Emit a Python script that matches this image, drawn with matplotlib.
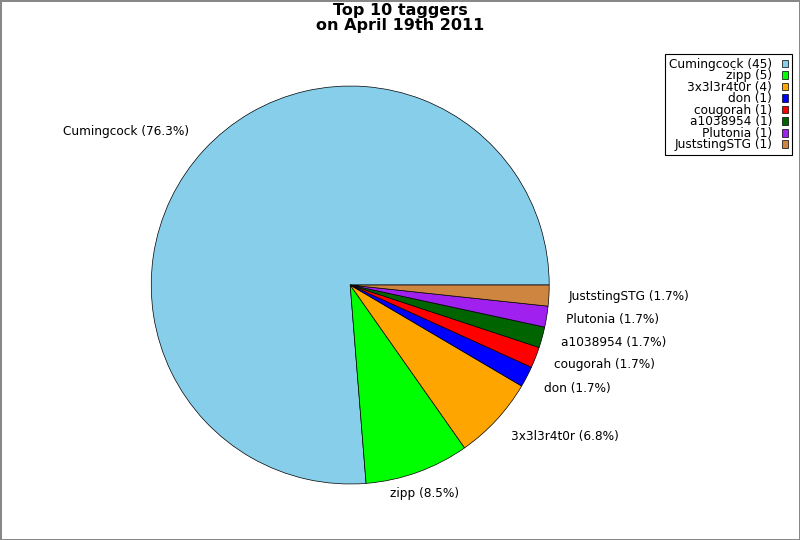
import matplotlib
matplotlib.use("Agg")
import matplotlib.pyplot as plt

# top taggers data
names = ["Cumingcock", "zipp", "3x3l3r4t0r", "don", "cougorah",
         "a1038954", "Plutonia", "JuststingSTG"]
counts = [45, 5, 4, 1, 1, 1, 1, 1]
colors = ["#87CEEB", "#00FF00", "#FFA500", "#0000FF", "#FF0000",
          "#006400", "#A020F0", "#CD853F"]

total = float(sum(counts))
pie_labels = ["%s (%.1f%%)" % (n, 100.0 * c / total) for n, c in zip(names, counts)]
legend_labels = ["%s (%d)" % (n, c) for n, c in zip(names, counts)]

fig = plt.figure(figsize=(8, 5.4), dpi=100, linewidth=1, edgecolor="#888888")
ax = fig.add_axes([0.189, 0.1037, 0.4975, 0.737])

wedges, texts = ax.pie(counts, labels=pie_labels, colors=colors, startangle=0,
                       wedgeprops=dict(edgecolor="black", linewidth=0.5),
                       textprops=dict(fontsize=8.7))
ax.set_xlim(-1, 1)
ax.set_ylim(-1, 1)
ax.set_aspect("equal")

# nudge labels a bit like the original layout
for t in texts:
    x, y = t.get_position()
    if abs(x) < 0.5:
        t.set_ha("center")
    if y < -0.45:
        y -= 0.015
    elif y > 0.3:
        y += 0.025
    t.set_position((x, y))

fig.suptitle("Top 10 taggers\non April 19th 2011", fontsize=11.5, fontweight="bold",
             y=0.995, linespacing=1.0)

leg = fig.legend(wedges, legend_labels, loc="upper right",
                 bbox_to_anchor=(792 / 800.0, 1 - 54 / 540.0),
                 markerfirst=False, fontsize=8.7, fancybox=False,
                 edgecolor="black", framealpha=1, labelspacing=-0.12,
                 handlelength=0.55, handleheight=0.6, handletextpad=0.8,
                 borderpad=0.3, borderaxespad=0)
leg.get_frame().set_linewidth(0.8)
for t in leg.get_texts():
    t.set_ha("right")

fig.savefig("out.png", dpi=100, edgecolor=fig.get_edgecolor())
